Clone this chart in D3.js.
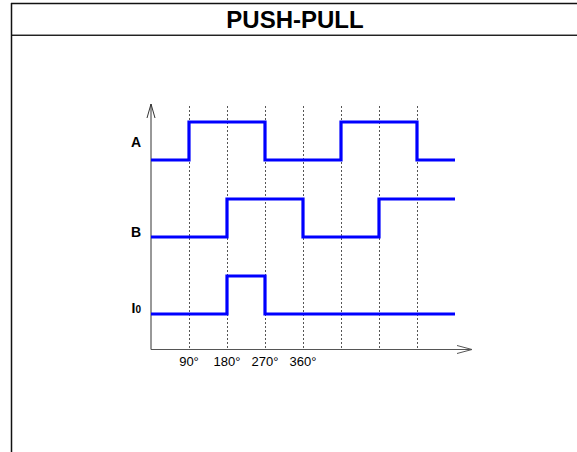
<!DOCTYPE html>
<html>
<head>
<meta charset="utf-8">
<script src="https://cdn.jsdelivr.net/npm/d3@7"></script>
<style>
    body { margin: 0; background: #fff; }
    text { font-family: "Liberation Sans", Arial, sans-serif; }
</style>
</head>
<body>
<div id="chart"></div>
<script>
// data: signal states per 90 degree segment (0 = low, 1 = high)
const title = "PUSH-PULL";
const signalNames = ["A", "B", "I0"];
const stateA = [0, 1, 1, 0, 0, 1, 1, 0];
const stateB = [0, 0, 1, 1, 0, 0, 1, 1];
const stateI0 = [0, 0, 1, 0, 0, 0, 0, 0];
const gridDegrees = [90, 180, 270, 360, 450, 540, 630];
const tickDegrees = [90, 180, 270, 360];
const tickLabels = ["90°", "180°", "270°", "360°"];

const width = 577, height = 452;
const svg = d3.select('#chart')
    .append('svg')
    .attr('width', width)
    .attr('height', height);

// frame + title
svg.append('line').attr('x1', 11).attr('x2', width + 5).attr('y1', 3.5).attr('y2', 3.5)
    .attr('stroke', '#111').attr('stroke-width', 1.5);
svg.append('line').attr('x1', 11).attr('x2', width + 5).attr('y1', 34.5).attr('y2', 34.5)
    .attr('stroke', '#999').attr('stroke-width', 1);
svg.append('line').attr('x1', 11).attr('x2', width + 5).attr('y1', 35.5).attr('y2', 35.5)
    .attr('stroke', '#222').attr('stroke-width', 1);
svg.append('line').attr('x1', 11.5).attr('x2', 11.5).attr('y1', 3).attr('y2', height)
    .attr('stroke', '#111').attr('stroke-width', 1.5);
svg.append('text')
    .attr('x', 295).attr('y', 28)
    .attr('text-anchor', 'middle')
    .attr('font-size', 24).attr('font-weight', 'bold')
    .text(title);

// scales
const x = d3.scaleLinear().domain([0, 720]).range([151, 455]);
const yBase = d3.scalePoint().domain(signalNames).range([160, 314]);
const level = d3.scaleLinear().domain([0, 1]).range([0, -38]);
const axisBottom = 349.5, axisTop = 104;

// dotted grid lines
svg.selectAll('line.grid')
    .data(gridDegrees)
    .enter().append('line')
    .attr('class', 'grid')
    .attr('x1', d => Math.round(x(d)) + 0.5)
    .attr('x2', d => Math.round(x(d)) + 0.5)
    .attr('y1', 106).attr('y2', axisBottom)
    .attr('stroke', '#555').attr('stroke-width', 1)
    .attr('stroke-dasharray', '2,2');

// axes
svg.append('line').attr('x1', x(0)).attr('x2', x(0)).attr('y1', axisBottom).attr('y2', axisTop)
    .attr('stroke', '#333').attr('stroke-width', 1);
svg.append('path').attr('d', `M${x(0) - 4},${axisTop + 14} L${x(0)},${axisTop} L${x(0) + 4},${axisTop + 14}`)
    .attr('fill', 'none').attr('stroke', '#333').attr('stroke-width', 1);
const xEnd = x(0) + 321;
svg.append('line').attr('x1', x(0)).attr('x2', xEnd).attr('y1', axisBottom).attr('y2', axisBottom)
    .attr('stroke', '#555').attr('stroke-width', 1.2);
svg.append('path').attr('d', `M${xEnd - 15},${axisBottom - 4} L${xEnd},${axisBottom} L${xEnd - 15},${axisBottom + 4}`)
    .attr('fill', 'none').attr('stroke', '#555').attr('stroke-width', 1);

// tick labels
svg.selectAll('text.tick')
    .data(tickDegrees)
    .enter().append('text')
    .attr('class', 'tick')
    .attr('x', d => x(d))
    .attr('y', 366)
    .attr('text-anchor', 'middle')
    .attr('font-size', 13)
    .text((d, i) => tickLabels[i]);

// waveforms
const signals = [
    { name: "A", states: stateA },
    { name: "B", states: stateB },
    { name: "I0", states: stateI0 }
];
const line = d3.line().curve(d3.curveStepAfter);

signals.forEach(function(s) {
    const pts = s.states.map((v, i) => [x(i * 90), yBase(s.name) + level(v)]);
    pts.push([x(720), yBase(s.name) + level(s.states[s.states.length - 1])]);
    svg.append('path')
        .attr('d', line(pts))
        .attr('fill', 'none')
        .attr('stroke', '#0000ff')
        .attr('stroke-width', 3.2);
});

// signal labels
const labelY = { A: 147, B: 237, I0: 313 };
signalNames.forEach(function(n) {
    const t = svg.append('text')
        .attr('x', 141).attr('y', labelY[n])
        .attr('text-anchor', 'end')
        .attr('font-size', 14).attr('font-weight', 'bold');
    if (n === "I0") {
        t.append('tspan').text('I');
        t.append('tspan').attr('font-size', 10).text('0');
    } else {
        t.text(n);
    }
});
</script>
</body>
</html>
